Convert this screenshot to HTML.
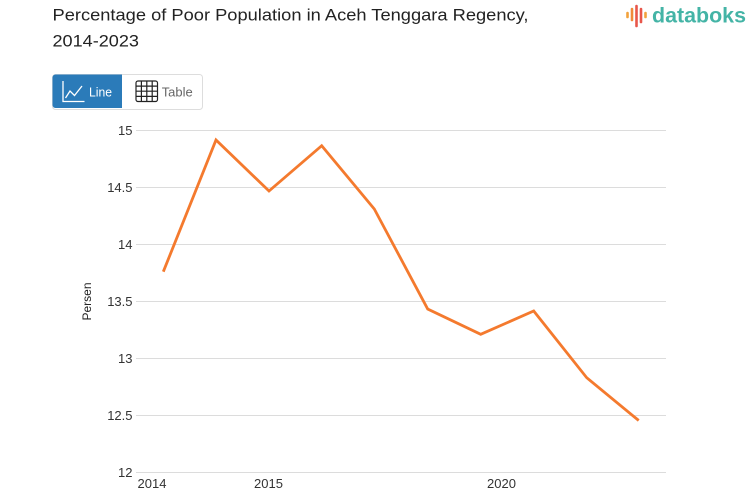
<!DOCTYPE html>
<html><head><meta charset="utf-8"><style>
html,body{margin:0;padding:0;background:#fff;width:753px;height:498px;overflow:hidden}
svg{display:block}
text{font-family:"Liberation Sans",sans-serif}
</style></head><body>
<svg width="753" height="498" viewBox="0 0 753 498" xmlns="http://www.w3.org/2000/svg">
<rect width="753" height="498" fill="#fff"/>
<text x="52.5" y="20.5" font-size="17" fill="#222" textLength="476" lengthAdjust="spacingAndGlyphs">Percentage of Poor Population in Aceh Tenggara Regency,</text>
<text x="52.5" y="46.7" font-size="17" fill="#222" textLength="86.5" lengthAdjust="spacingAndGlyphs">2014-2023</text>
<g stroke-linecap="round" stroke-width="2.6">
<line x1="627.5" y1="13" x2="627.5" y2="17" stroke="#f2a23c"/>
<line x1="632" y1="9" x2="632" y2="20" stroke="#f08a3a"/>
<line x1="636.5" y1="6" x2="636.5" y2="26" stroke="#e8564a"/>
<line x1="641" y1="9" x2="641" y2="22" stroke="#e8564a"/>
<line x1="645.5" y1="13" x2="645.5" y2="17" stroke="#f2a23c"/>
</g>
<text x="652" y="22.7" font-size="21" font-weight="bold" fill="#44b4a6" textLength="94" lengthAdjust="spacingAndGlyphs">databoks</text>
<rect x="52.5" y="74.5" width="150" height="35" rx="3" fill="#fff" stroke="#ddd"/>
<path d="M52.5 77.5 a3 3 0 0 1 3 -3 H122 V108 H55.5 a3 3 0 0 1 -3 -3Z" fill="#2b7bb9"/>
<g fill="none" stroke="#fff" stroke-width="1.3">
<polyline points="63,81 63,101.5 84.5,101.5"/>
<polyline points="65.5,98 70,91 74.5,95.5 82,86"/>
</g>
<text x="89" y="96.5" font-size="13" fill="#fff" textLength="23" lengthAdjust="spacingAndGlyphs">Line</text>
<g fill="none" stroke="#222" stroke-width="1.2">
<rect x="136" y="81" width="21.5" height="20.5" rx="2"/>
<line x1="141.4" y1="81" x2="141.4" y2="101.5"/><line x1="146.8" y1="81" x2="146.8" y2="101.5"/><line x1="152.2" y1="81" x2="152.2" y2="101.5"/>
<line x1="136" y1="86.1" x2="157.5" y2="86.1"/><line x1="136" y1="91.2" x2="157.5" y2="91.2"/><line x1="136" y1="96.4" x2="157.5" y2="96.4"/>
</g>
<text x="161.7" y="96.5" font-size="13" fill="#666" textLength="31" lengthAdjust="spacingAndGlyphs">Table</text>
<g stroke="#dcdcdc" stroke-width="1">
<line x1="136" y1="130.5" x2="666" y2="130.5"/>
<line x1="136" y1="187.5" x2="666" y2="187.5"/>
<line x1="136" y1="244.5" x2="666" y2="244.5"/>
<line x1="136" y1="301.5" x2="666" y2="301.5"/>
<line x1="136" y1="358.5" x2="666" y2="358.5"/>
<line x1="136" y1="415.5" x2="666" y2="415.5"/>
<line x1="136" y1="472.5" x2="666" y2="472.5"/>
</g>
<g font-size="13" fill="#333" text-anchor="end">
<text x="132.5" y="135">15</text>
<text x="132.5" y="192">14.5</text>
<text x="132.5" y="249">14</text>
<text x="132.5" y="306">13.5</text>
<text x="132.5" y="363">13</text>
<text x="132.5" y="420">12.5</text>
<text x="132.5" y="477">12</text>
</g>
<g font-size="13" fill="#333">
<text x="137.5" y="488">2014</text>
<text x="254" y="488">2015</text>
<text x="487" y="488">2020</text>
</g>
<text transform="translate(91,301.5) rotate(-90)" font-size="12" fill="#222" text-anchor="middle">Persen</text>
<polyline fill="none" stroke="#f47a2e" stroke-width="2.8" stroke-linejoin="miter" points="163.3,271.7 216,140 269,191 321.7,145.7 374.3,209 427.7,309 480.7,334.3 533.7,311 586.7,377.7 638.7,420.5"/>
</svg>
</body></html>
